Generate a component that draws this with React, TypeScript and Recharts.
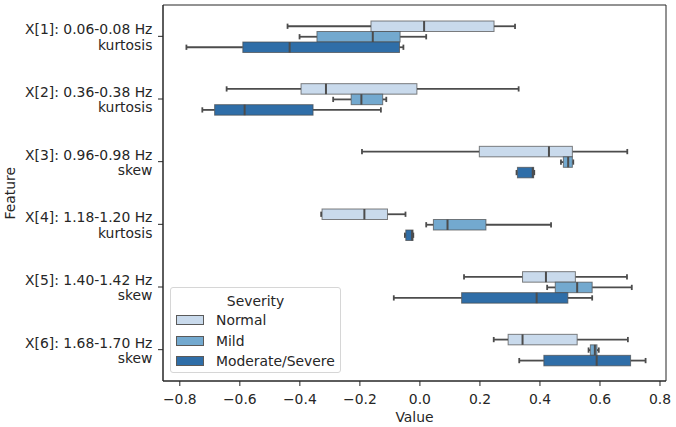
import React from "react";
import { ComposedChart, Bar, XAxis, YAxis, ReferenceArea } from "recharts";

// box stats per feature: [whiskerLow, q1, median, q3, whiskerHigh]
const features = [
  ["X[1]: 0.06-0.08 Hz", "kurtosis"],
  ["X[2]: 0.36-0.38 Hz", "kurtosis"],
  ["X[3]: 0.96-0.98 Hz", "skew"],
  ["X[4]: 1.18-1.20 Hz", "kurtosis"],
  ["X[5]: 1.40-1.42 Hz", "skew"],
  ["X[6]: 1.68-1.70 Hz", "skew"],
];

const normalStats = [
  [-0.441, -0.163, 0.014, 0.247, 0.317],
  [-0.644, -0.396, -0.313, -0.01, 0.329],
  [-0.193, 0.198, 0.43, 0.508, 0.691],
  [-0.329, -0.326, -0.185, -0.108, -0.048],
  [0.147, 0.342, 0.42, 0.518, 0.69],
  [0.246, 0.294, 0.342, 0.524, 0.693],
];

const mildStats = [
  [-0.401, -0.343, -0.157, -0.066, 0.021],
  [-0.289, -0.229, -0.195, -0.124, -0.112],
  [0.47, 0.478, 0.494, 0.508, 0.511],
  [0.021, 0.045, 0.092, 0.22, 0.437],
  [0.424, 0.451, 0.524, 0.574, 0.706],
  [0.562, 0.568, 0.583, 0.59, 0.596],
];

const severeStats = [
  [-0.778, -0.59, -0.434, -0.068, -0.055],
  [-0.725, -0.684, -0.584, -0.356, -0.13],
  [0.322, 0.325, 0.376, 0.379, 0.381],
  [-0.05, -0.047, -0.026, -0.023, -0.022],
  [-0.087, 0.139, 0.389, 0.493, 0.574],
  [0.331, 0.413, 0.589, 0.702, 0.752],
];

const xTicks = [-0.8, -0.6, -0.4, -0.2, 0, 0.2, 0.4, 0.6, 0.8];
const xDomain = [-0.856, 0.82];

const series = [
  { key: "normal", name: "Normal", color: "#c9daec" },
  { key: "mild", name: "Mild", color: "#73a9cf" },
  { key: "severe", name: "Moderate/Severe", color: "#2f6ea8" },
];

const data = features.map((f, i) => ({
  feature: f.join("|"),
  normal: normalStats[i],
  mild: mildStats[i],
  severe: severeStats[i],
}));

const FONT = "DejaVu Sans, sans-serif";
const TEXT = "#262626";
const LINE = "#4c4c4c";

function BoxShape(props: any) {
  const { x, y, width, height, payload, statsKey, color } = props;
  const s: number[] = payload[statsKey];
  const lo = s[0];
  const hi = s[4];
  const px = (v: number) => x + ((v - lo) / (hi - lo)) * width;
  const cy = y + height / 2;
  const cap = height * 0.25;
  return (
    <g>
      <line x1={px(s[0])} x2={px(s[1])} y1={cy} y2={cy} stroke={LINE} strokeWidth={1.8} />
      <line x1={px(s[3])} x2={px(s[4])} y1={cy} y2={cy} stroke={LINE} strokeWidth={1.8} />
      <line x1={px(s[0])} x2={px(s[0])} y1={cy - cap} y2={cy + cap} stroke={LINE} strokeWidth={1.8} />
      <line x1={px(s[4])} x2={px(s[4])} y1={cy - cap} y2={cy + cap} stroke={LINE} strokeWidth={1.8} />
      <rect
        x={px(s[1])}
        y={y}
        width={Math.max(px(s[3]) - px(s[1]), 0.5)}
        height={height}
        fill={color}
        stroke={LINE}
        strokeOpacity={0.7}
        strokeWidth={1}
      />
      <line x1={px(s[2])} x2={px(s[2])} y1={y} y2={y + height} stroke={LINE} strokeWidth={2} />
    </g>
  );
}

function FeatureTick(props: any) {
  const { x, y, payload } = props;
  const [l1, l2] = String(payload.value).split("|");
  return (
    <text x={x} textAnchor="end" fontFamily={FONT} fontSize={13.9} fill={TEXT}>
      <tspan x={x} y={y - 2}>{l1}</tspan>
      <tspan x={x} y={y + 13.4}>{l2}</tspan>
    </text>
  );
}

function Legend() {
  return (
    <div
      style={{
        position: "absolute",
        left: 170,
        top: 287,
        width: 171,
        height: 86,
        border: "1px solid #d6d6d6",
        borderRadius: 3,
        background: "rgba(255,255,255,0.8)",
        fontFamily: FONT,
        fontSize: 13.9,
        color: TEXT,
        boxSizing: "border-box",
      }}
    >
      <div style={{ position: "absolute", left: 0, width: "100%", top: 5, textAlign: "center" }}>
        Severity
      </div>
      {series.map((s, i) => (
        <div key={s.key} style={{ position: "absolute", left: 5, top: 26 + i * 20.7, height: 12, display: "flex", alignItems: "center" }}>
          <span
            style={{
              display: "inline-block",
              width: 28,
              height: 10,
              background: s.color,
              border: "1px solid #5a5a5a",
              boxSizing: "border-box",
            }}
          />
          <span style={{ marginLeft: 12, lineHeight: "12px" }}>{s.name}</span>
        </div>
      ))}
    </div>
  );
}

export default function App() {
  return (
    <div style={{ position: "absolute", left: 0, top: 0, width: 676, height: 427, background: "#fff" }}>
      <ComposedChart
        width={676}
        height={427}
        data={data}
        layout="vertical"
        margin={{ top: 5, right: 10, left: 0, bottom: 0 }}
        barGap={0}
        barSize={10.5}
      >
        <XAxis
          type="number"
          domain={xDomain}
          allowDataOverflow
          ticks={xTicks}
          tickFormatter={(v: number) => v.toFixed(1).replace("-", "\u2212")}
          height={46}
          tickSize={5}
          tickMargin={8}
          stroke="#262626"
          tick={{ fontFamily: FONT, fontSize: 13.9, fill: TEXT }}
          label={{
            content: (p: any) => {
              const vb = p.viewBox;
              return (
                <text x={vb.x + vb.width / 2} y={vb.y + 40.5} textAnchor="middle" fontFamily={FONT} fontSize={13.9} fill={TEXT}>
                  Value
                </text>
              );
            },
          }}
        />
        <YAxis
          type="category"
          dataKey="feature"
          width={163}
          tickSize={5}
          tickMargin={5.6}
          stroke="#262626"
          tick={<FeatureTick />}
          label={{
            content: () => (
              <text
                x={15}
                y={193.3}
                transform="rotate(-90 15 193.3)"
                textAnchor="middle"
                fontFamily={FONT}
                fontSize={13.9}
                fill={TEXT}
              >
                Feature
              </text>
            ),
          }}
        />
        {series.map((s) => (
          <Bar
            key={s.key}
            name={s.name}
            dataKey={(d: any) => [d[s.key][0], d[s.key][4]]}
            isAnimationActive={false}
            shape={(p: any) => <BoxShape {...p} statsKey={s.key} color={s.color} />}
          />
        ))}
        {/* plot frame */}
        <ReferenceArea
          x1={xDomain[0]}
          x2={xDomain[1]}
          fill="none"
          fillOpacity={0}
          stroke="#262626"
          strokeWidth={1}
          ifOverflow="visible"
        />
      </ComposedChart>
      <Legend />
    </div>
  );
}
